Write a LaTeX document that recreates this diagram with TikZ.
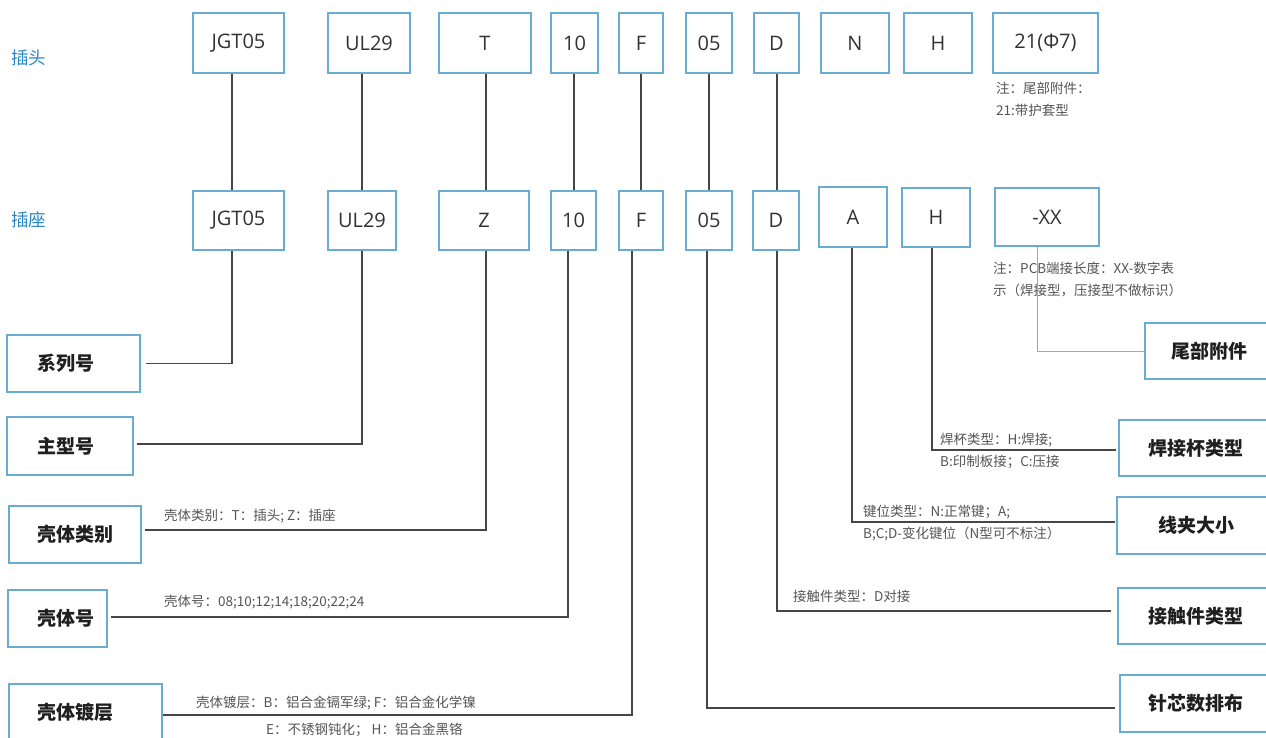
\documentclass[tikz,border=0pt]{standalone}
\usepackage{fontspec}
\newfontfamily\latinf{Open Sans}
\newfontfamily\cjk{Noto Sans CJK SC}
\definecolor{boxblue}{RGB}{105,172,210}
\definecolor{lblblue}{RGB}{40,135,200}
\definecolor{txt}{RGB}{50,50,50}
\definecolor{conncol}{RGB}{70,70,70}
\definecolor{notecol}{RGB}{85,85,85}
\definecolor{lightconn}{RGB}{165,165,165}
\tikzset{
  codebox/.style={draw=boxblue, line width=1.6pt, fill=white, inner sep=0pt,
    text=txt, font=\latinf\fontsize{20}{20}\selectfont},
  namebox/.style={draw=boxblue, line width=1.6pt, fill=white, inner sep=0pt},
  nametext/.style={inner sep=0pt, text=black!88, font=\cjk\bfseries\fontsize{19}{19}\selectfont},
  rowlabel/.style={inner sep=0pt, anchor=west, text=lblblue, font=\cjk\fontsize{17.5}{17.5}\selectfont},
  note/.style={inner sep=0pt, anchor=west, text=notecol, font=\cjk\fontsize{13.5}{13.5}\selectfont},
  conn/.style={draw=conncol, line width=1.4pt},
  lconn/.style={draw=lightconn, line width=1pt}
}
\begin{document}
\begin{tikzpicture}[x=1pt,y=-1pt]
\useasboundingbox (0,0) rectangle (1266,738);
\fill[white] (0,0) rectangle (1266,738);

% row labels
\node[rowlabel] (lab1) at (11,58) {插头};
\node[rowlabel] (lab2) at (11,220) {插座};

% top row
\node[codebox, minimum width=91pt, minimum height=60pt] (t1) at (238.5,43) {JGT05};
\node[codebox, minimum width=82pt, minimum height=60pt] (t2) at (369,43) {UL29};
\node[codebox, minimum width=92pt, minimum height=60pt] (t3) at (485,43) {T};
\node[codebox, minimum width=47pt, minimum height=60pt] (t4) at (574.5,43) {10};
\node[codebox, minimum width=44pt, minimum height=60pt] (t5) at (641,43) {F};
\node[codebox, minimum width=46pt, minimum height=60pt] (t6) at (709,43) {05};
\node[codebox, minimum width=45pt, minimum height=60pt] (t7) at (776.5,43) {D};
\node[codebox, minimum width=68pt, minimum height=60pt] (t8) at (855,43) {N};
\node[codebox, minimum width=68pt, minimum height=60pt] (t9) at (938,43) {H};
\node[codebox, minimum width=105pt, minimum height=60pt] (t10) at (1045.5,43) {21(Φ7)};

% bottom row
\node[codebox, minimum width=91pt, minimum height=59pt] (b1) at (238.5,220.5) {JGT05};
\node[codebox, minimum width=68pt, minimum height=59pt] (b2) at (362,220.5) {UL29};
\node[codebox, minimum width=90pt, minimum height=59pt] (b3) at (484,220.5) {Z};
\node[codebox, minimum width=45pt, minimum height=59pt] (b4) at (573.5,220.5) {10};
\node[codebox, minimum width=44pt, minimum height=59pt] (b5) at (641,220.5) {F};
\node[codebox, minimum width=46pt, minimum height=59pt] (b6) at (709,220.5) {05};
\node[codebox, minimum width=46pt, minimum height=59pt] (b7) at (776,220.5) {D};
\node[codebox, minimum width=68pt, minimum height=60pt] (b8) at (853,217) {A};
\node[codebox, minimum width=68pt, minimum height=59pt] (b9) at (936,217.5) {H};
\node[codebox, minimum width=104pt, minimum height=58pt] (b10) at (1047,217) {-XX};

% notes near boxes
\node[note] (n21a) at (996,88) {注：尾部附件：};
\node[note] (n21b) at (996,110) {21:带护套型};
\node[note] (nxxa) at (993,268) {注：PCB端接长度：XX-数字表};
\node[note] (nxxb) at (993,290) {示（焊接型，压接型不做标识）};

% top-to-bottom connectors
\draw[conn] ([xshift=-6.5pt]t1.south) -- ([xshift=-6.5pt]b1.north);
\draw[conn] ([xshift=-7pt]t2.south) -- (b2.north);
\draw[conn] ([xshift=1pt]t3.south) -- ([xshift=2pt]b3.north);
\draw[conn] ([xshift=-0.5pt]t4.south) -- ([xshift=-0.5pt]t4.south |- b4.north);
\draw[conn] (t5.south) -- (t5.south |- b5.north);
\draw[conn] (t6.south) -- (t6.south |- b6.north);
\draw[conn] ([xshift=0.5pt]t7.south) -- ([xshift=0.5pt]t7.south |- b7.north);

% left name boxes
\node[namebox, minimum width=133pt, minimum height=57pt] (l1) at (73.5,363.5) {};
\node[namebox, minimum width=126pt, minimum height=58pt] (l2) at (70,446) {};
\node[namebox, minimum width=132pt, minimum height=57pt] (l3) at (75,534.5) {};
\node[namebox, minimum width=99pt, minimum height=57pt] (l4) at (57.5,618.5) {};
\node[namebox, minimum width=153pt, minimum height=57pt] (l5) at (85.5,712.5) {};
\node[nametext, anchor=west] (l1t) at (37,363.5) {系列号};
\node[nametext, anchor=west] (l2t) at (37,446) {主型号};
\node[nametext, anchor=west] (l3t) at (37,534.5) {壳体类别};
\node[nametext, anchor=west] (l4t) at (37,618.5) {壳体号};
\node[nametext, anchor=west] (l5t) at (37,712.5) {壳体镀层};

% right name boxes
\node[namebox, minimum width=127pt, minimum height=56pt] (r1) at (1208.5,351) {};
\node[namebox, minimum width=154pt, minimum height=56pt] (r2) at (1196,448) {};
\node[namebox, minimum width=158pt, minimum height=57pt] (r3) at (1196,525.5) {};
\node[namebox, minimum width=156pt, minimum height=56pt] (r4) at (1196,616) {};
\node[namebox, minimum width=152pt, minimum height=57pt] (r5) at (1196,703.5) {};
\node[nametext] (r1t) at (1209,351) {尾部附件};
\node[nametext] (r2t) at (1196,448) {焊接杯类型};
\node[nametext] (r3t) at (1196,525.5) {线夹大小};
\node[nametext] (r4t) at (1196,616) {接触件类型};
\node[nametext] (r5t) at (1196,703.5) {针芯数排布};

% connectors to left boxes
\draw[conn] ([xshift=-6.5pt]b1.south) |- ([xshift=5pt]l1.east);
\draw[conn] (b2.south) |- ([xshift=3pt,yshift=2pt]l2.east);
\draw[conn] ([xshift=2pt]b3.south) |- ([xshift=3pt,yshift=4.5pt]l3.east);
\draw[conn] ([xshift=-5.5pt]b4.south) |- ([xshift=3pt,yshift=1.5pt]l4.east);
\draw[conn] ([xshift=-9pt]b5.south) |- ([yshift=-2.5pt]l5.east);

% connectors to right boxes
\draw[conn] ([xshift=-2pt]b6.south) |- ([xshift=-4pt,yshift=-4.5pt]r5.west);
\draw[conn] ([xshift=1pt]b7.south) |- ([xshift=-6pt,yshift=5pt]r4.west);
\draw[conn] ([xshift=-1pt]b8.south) |- ([xshift=-1pt,yshift=3.5pt]r3.west);
\draw[conn] ([xshift=-4pt]b9.south) |- ([xshift=-2pt,yshift=-2pt]r2.west);
\draw[lconn] ([xshift=-10pt]b10.south) |- (r1.west);

% connector notes
\node[note] (nl3) at (164,516) {壳体类别：T：插头; Z：插座};
\node[note] (nl4) at (164,602) {壳体号：08;10;12;14;18;20;22;24};
\node[note] (nl5a) at (196,703) {壳体镀层：B：铝合金镉军绿; F：铝合金化学镍};
\node[note] (nl5b) at (266,730) {E：不锈钢钝化； H：铝合金黑铬};
\node[note] (nr4) at (793,596) {接触件类型：D对接};
\node[note] (nr3a) at (863,512) {键位类型：N:正常键；A;};
\node[note] (nr3b) at (863,534) {B;C;D-变化键位（N型可不标注）};
\node[note] (nr2a) at (940,440) {焊杯类型：H:焊接;};
\node[note] (nr2b) at (940,462) {B:印制板接；C:压接};
\end{tikzpicture}
\end{document}
